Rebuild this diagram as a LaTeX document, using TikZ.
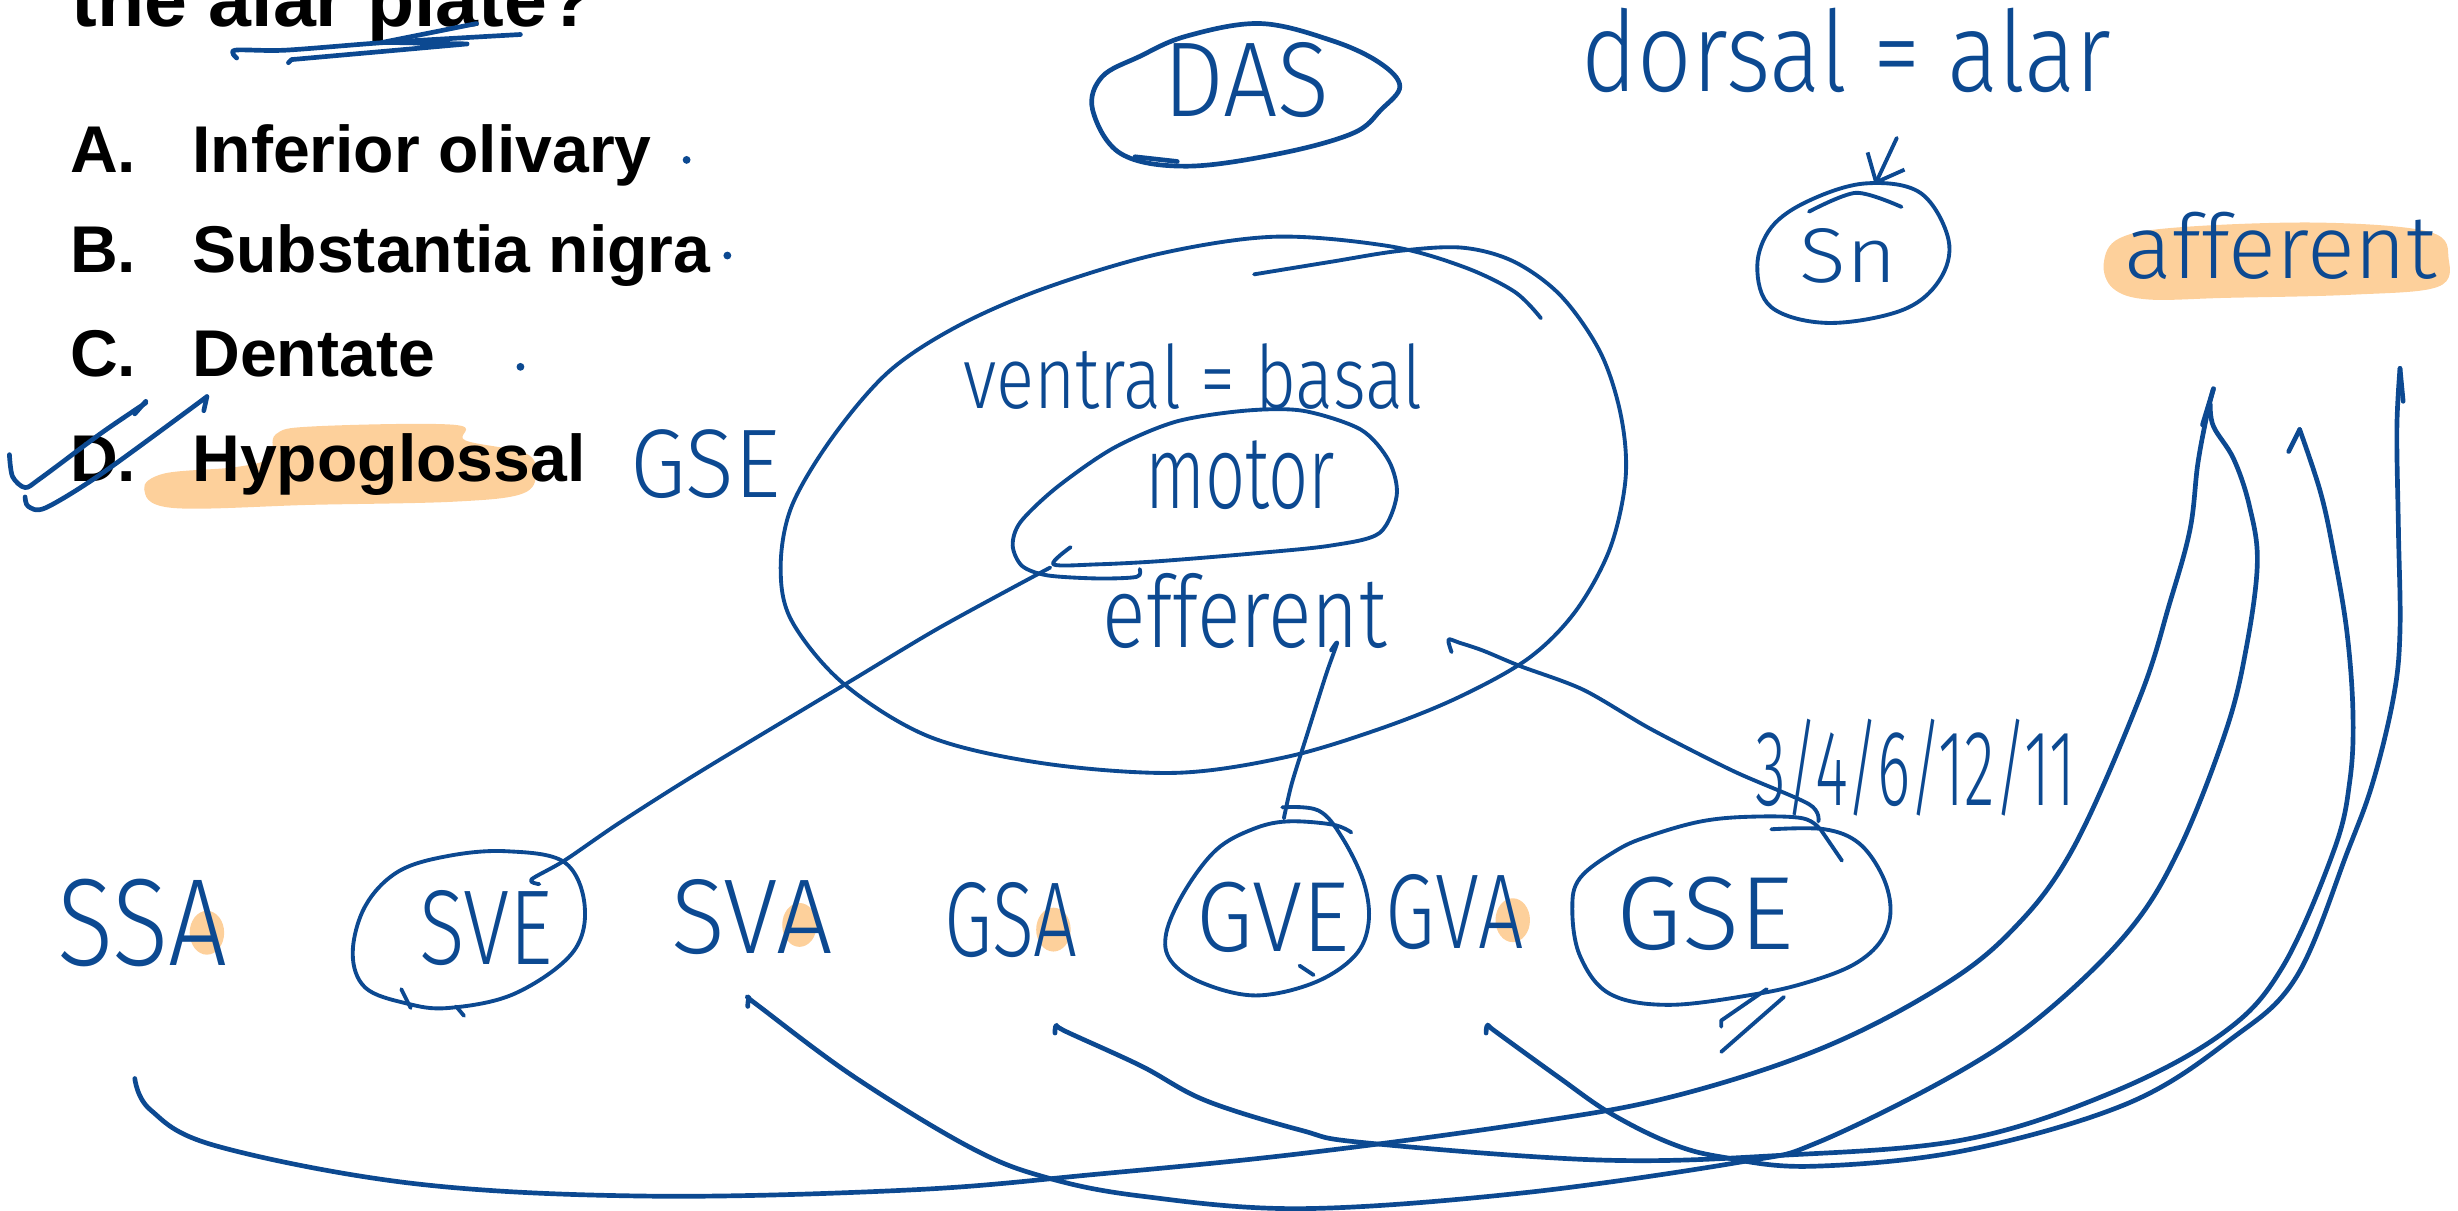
\documentclass[tikz,border=0pt]{standalone}
\usepackage{fontspec}
\usepackage{graphicx}
\usetikzlibrary{arrows.meta}
\newfontfamily\printfont{Liberation Sans}
\newfontfamily\handfont{Fira Sans}[UprightFont=* Light]
\definecolor{ink}{RGB}{12,73,145}
\definecolor{hilite}{RGB}{253,208,155}
\newlength\hwunit
\setlength\hwunit{0.1mm}
\newcommand\scrawl[3]{\resizebox*{#1\hwunit}{#2\hwunit}{\handfont #3}}
\tikzset{
  inkline/.style={draw=ink, line width=0.85pt, line cap=round, line join=round},
  inkthin/.style={draw=ink, line width=0.7pt, line cap=round, line join=round},
  hand/.style={text=ink, inner sep=0pt},
  printed/.style={font=\printfont\bfseries\fontsize{12}{14}\selectfont, inner sep=0pt, anchor=base west},
  marker/.style={fill=hilite, draw=none},
  inkdot/.style={circle, fill=ink, inner sep=0pt, minimum size=0.5mm},
  barb/.style={-{Straight Barb[length=1.5mm, width=2.6mm]}}
}
\begin{document}
\begin{tikzpicture}[x=0.1mm, y=-0.1mm]
  \useasboundingbox (0,0) rectangle (1568,772);
  % highlighter marks
  \fill[marker] plot[smooth cycle, tension=0.6] coordinates {(92,312) (105,302) (150,298) (172,292) (176,277) (200,272) (290,271) (297,281) (335,289) (342,302) (333,315) (290,320) (200,322) (110,324)};
  \fill[marker] plot[smooth cycle, tension=0.6] coordinates {(1342,168) (1352,152) (1390,145) (1480,142) (1550,148) (1562,165) (1555,183) (1500,188) (1420,190) (1370,191) (1348,184)};
  \foreach \hx/\hy in {132/595, 510/590, 672/593, 965/587} \fill[marker] (\hx,\hy) ellipse [x radius=11, y radius=14];

  % printed question
  \node[printed, font=\printfont\bfseries\fontsize{14}{16}\selectfont] (question) at (45,17) {the alar plate?};
  \foreach \l/\t/\y in {A/Inferior olivary/110, B/Substantia nigra/174, C/Dentate/240, D/Hypoglossal/307} {
    \node[printed] (opt\l) at (44,\y) {\l.};
    \node[printed] (ans\l) at (122,\y) {\t};
  }
  \node[inkdot] (dotA) at (438,102) {};
  \node[inkdot] (dotB) at (464,163) {};
  \node[inkdot] (dotC) at (332,234) {};

  % underline and tick
  \draw[inkline] plot[smooth] coordinates {(151,37) (150,32) (182,32) (247,27) (332,22)};
  \draw[inkline] (304,15) -- (244,27) -- (298,28) -- (186,38) -- (184,40);
  \draw[inkline] plot[smooth] coordinates {(6,290) (8,304) (16,311) (26,305) (65,276) (93,257)};
  \draw[inkline] (86,264) -- (93,256);
  \draw[inkline] plot[smooth] coordinates {(16,317) (18,323) (29,324) (65,302) (132,253)};
  \draw[inkline] (130,262) -- (132,253);

  % handwritten notes
  \node[hand] (gseNote) at (450,296) {\scrawl{96}{44}{GSE}};
  \node[hand] (dasNote) at (795,51) {\scrawl{106}{48}{DAS}};
  \node[hand] (dorsalNote) at (1178,32) {\scrawl{338}{54}{dorsal = alar}};
  \node[hand] (snNote) at (1179,163) {\scrawl{62}{35}{Sn}};
  \node[hand] (affNote) at (1455,157) {\scrawl{199}{43}{afferent}};
  \node[hand] (ventralNote) at (761,240) {\scrawl{293}{42}{ventral = basal}};
  \node[hand] (motorNote) at (791,303) {\scrawl{121}{44}{motor}};
  \node[hand] (effNote) at (794,390) {\scrawl{181}{48}{efferent}};
  \node[hand] (nervesNote) at (1222,490) {\scrawl{204}{62}{3/4/6/12/11}};
  \node[hand] (ssaNote) at (91,589) {\scrawl{108}{56}{SSA}};
  \node[hand] (sveNote) at (310,592) {\scrawl{85}{48}{SVE}};
  \node[hand] (svaNote) at (480,585) {\scrawl{103}{48}{SVA}};
  \node[hand] (gsaNote) at (645,587) {\scrawl{85}{48}{GSA}};
  \node[hand] (gveNote) at (812,585) {\scrawl{98}{45}{GVE}};
  \node[hand] (gvaNote) at (928,582) {\scrawl{88}{48}{GVA}};
  \node[hand] (gseLow) at (1088,583) {\scrawl{113}{47}{GSE}};

  % rings
  \draw[inkline] plot[smooth cycle, tension=0.6] coordinates {(804,15) (850,26) (880,40) (893,55) (881,70) (863,85) (816,98) (757,106) (715,98) (697,70) (703,49) (727,36) (757,23)};
  \draw[inkline] (724,100) -- (751,103);
  \draw[inkthin] plot[smooth cycle, tension=0.6] coordinates {(1190,117) (1225,123) (1243,153) (1237,179) (1213,198) (1166,206) (1130,196) (1121,170) (1130,145) (1154,128)};
  \draw[inkthin] plot[smooth] coordinates {(1154,135) (1184,123) (1213,132)};
  \draw[inkthin] plot[smooth, tension=0.55] coordinates {(800,175) (849,167) (893,160) (933,158) (966,167) (996,189) (1021,225) (1034,265) (1037,305) (1027,350) (1005,390) (975,420) (930,445) (880,465) (820,483) (750,493) (666,487) (593,470) (538,436) (505,396) (498,362) (505,323) (531,279) (567,237) (611,208) (666,184) (739,162) (813,151) (886,157) (933,170) (966,186) (983,203)};
  \draw[inkthin] plot[smooth, tension=0.5] coordinates {(683,349) (672,360) (700,360) (739,358) (800,353) (849,348) (880,340) (891,316) (886,294) (868,274) (831,262) (794,262) (750,269) (710,286) (674,311) (651,333) (646,348) (652,361) (668,367) (700,369) (725,368) (727,363)};
  \draw[inkthin] plot[smooth cycle, tension=0.6] coordinates {(323,543) (360,550) (373,578) (365,608) (328,634) (286,643) (259,640) (233,630) (225,608) (233,578) (254,556) (286,546)};
  \draw[inkthin] (256,631) -- (262,643);
  \draw[inkthin] (291,642) -- (296,648);
  \draw[inkthin] plot[smooth, tension=0.6] coordinates {(818,515) (841,517) (856,534) (870,563) (873,589) (864,610) (838,627) (801,635) (767,627) (747,613) (744,595) (756,568) (776,542) (799,529) (821,524) (850,526) (862,531)};
  \draw[inkthin] (829,616) -- (838,622);
  \draw[inkthin] plot[smooth, tension=0.6] coordinates {(1130,529) (1164,529) (1186,538) (1201,559) (1206,581) (1200,600) (1183,615) (1155,626) (1121,634) (1065,641) (1027,634) (1008,610) (1003,580) (1008,560) (1032,542) (1053,533) (1085,524) (1116,521) (1150,522) (1162,530)};
  \draw[inkthin] (1162,530) -- (1175,549);
  \draw[inkthin] (1098,655) -- (1098,651) -- (1127,631);
  \draw[inkthin] (1098,671) -- (1138,636);

  % connectors
  \coordinate (alarFoot) at (1210,88);
  \coordinate (snTop) at (1196,118);
  \draw[inkthin, barb] (alarFoot) -- (snTop);
  \coordinate (motorTail) at (670,362);
  \coordinate (sveTip) at (339,561);
  \draw[inkthin] plot[smooth] coordinates {(motorTail) (600,400) (540,436) (447,492) (395,525) (360,549) (sveTip) (344,564)};
  \coordinate (effFoot) at (853,410);
  \coordinate (gveTop) at (819,522);
  \draw[inkthin] plot[smooth] coordinates {(849,415) (effFoot) (846,430) (834,468) (824,500) (gveTop)};
  \coordinate (effRight) at (924,408);
  \coordinate (gseTop) at (1160,524);
  \draw[inkthin] plot[smooth] coordinates {(926,416) (effRight) (931,410) (946,415) (970,425) (1010,440) (1053,465) (1106,492) (1154,513) (gseTop)};

  % afferent curves
  \coordinate (ssaTail) at (86,688);
  \coordinate (affTipA) at (1412,248);
  \coordinate (svaTail) at (478,637);
  \coordinate (gsaTail) at (674,654);
  \coordinate (affTipB) at (1467,274);
  \coordinate (gvaTail) at (949,654);
  \coordinate (affTipC) at (1531,235);
  \draw[inkline] plot[smooth, tension=0.6] coordinates {(ssaTail) (96,708) (138,731) (264,755) (413,763) (582,759) (700,749) (829,736) (971,717) (1065,700) (1159,670) (1234,632) (1282,595) (1322,542) (1365,445) (1384,385) (1397,338) (1402,296) (1408,264) (affTipA)};
  \draw[inkline] (affTipA) -- (1405,271);
  \draw[inkline] plot[smooth, tension=0.6] coordinates {(477,642) (svaTail) (483,641) (545,687) (619,732) (667,751) (728,763) (830,771) (971,761) (1112,741) (1159,729) (1244,687) (1301,649) (1357,595) (1390,542) (1420,466) (1433,413) (1440,359) (1435,323) (1425,293) (1412,272) (1410,258)};
  \draw[inkline] plot[smooth, tension=0.6] coordinates {(673,659) (gsaTail) (680,658) (728,680) (769,702) (830,721) (871,729) (1021,740) (1136,737) (1253,727) (1347,697) (1418,659) (1456,617) (1489,542) (1499,498) (1501,455) (1497,402) (1488,349) (1480,313) (affTipB)};
  \draw[inkline] (affTipB) -- (1460,288);
  \draw[inkline] plot[smooth, tension=0.6] coordinates {(948,659) (gvaTail) (954,658) (994,687) (1027,710) (1065,729) (1098,738) (1155,744) (1253,734) (1357,704) (1423,663) (1465,623) (1498,542) (1514,498) (1527,444) (1531,402) (1530,338) (1529,274) (affTipC)};
  \draw[inkline] (affTipC) -- (1533,256);
\end{tikzpicture}
\end{document}
